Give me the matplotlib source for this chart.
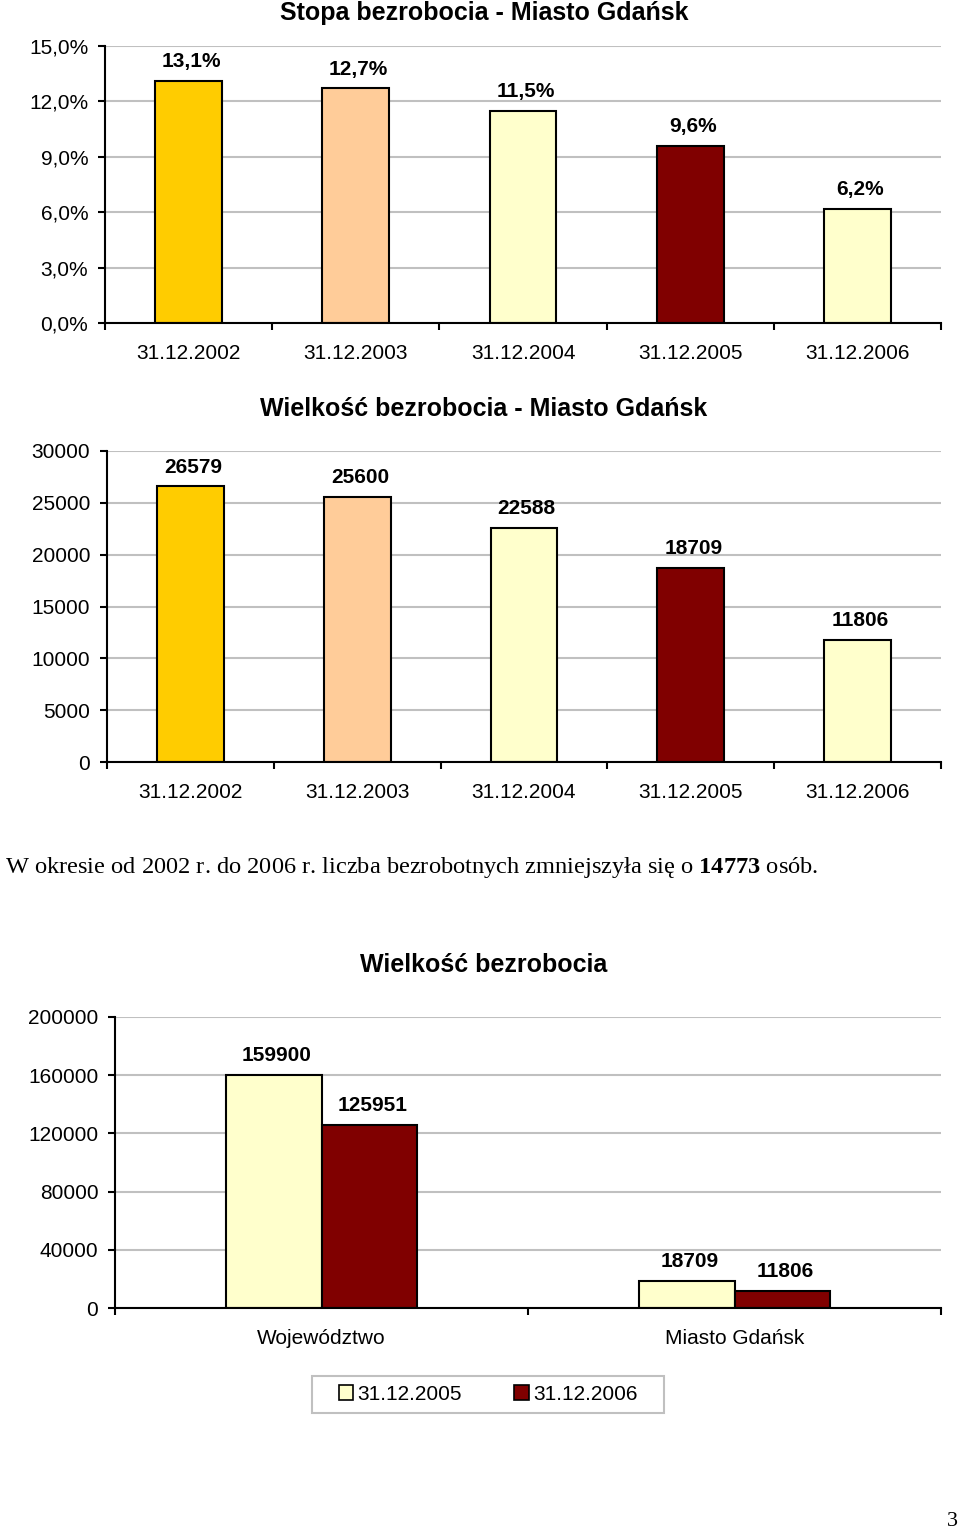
import matplotlib.pyplot as plt
from matplotlib.patches import Patch, Rectangle
import numpy as np

# data
dates = ["31.12.2002", "31.12.2003", "31.12.2004", "31.12.2005", "31.12.2006"]
rate = [13.1, 12.7, 11.5, 9.6, 6.2]
count = [26579, 25600, 22588, 18709, 11806]
bar_colors = ["#FFCC00", "#FFCC99", "#FFFFCC", "#800000", "#FFFFCC"]

regions = ["Województwo", "Miasto Gdańsk"]
series_names = ["31.12.2005", "31.12.2006"]
val_2005 = [159900, 18709]
val_2006 = [125951, 11806]
series_colors = ["#FFFFCC", "#800000"]

SANS = "Liberation Sans"
SERIF = "Liberation Serif"
plt.rcParams["font.family"] = [SANS, "DejaVu Sans"]
plt.rcParams["mathtext.fontset"] = "custom"
plt.rcParams["mathtext.rm"] = SERIF
plt.rcParams["mathtext.bf"] = SERIF + ":bold"

W, H = 960, 1531
fig = plt.figure(figsize=(W / 100, H / 100), dpi=100)


def box(left, top, right, bottom):
    return [left / W, 1 - bottom / H, (right - left) / W, (bottom - top) / H]


def style_axes(ax, ncat, ymax, yticks, fmt):
    ax.set_xlim(0, ncat)
    ax.set_ylim(0, ymax)
    ax.set_yticks(yticks)
    ax.set_yticklabels([fmt(v) for v in yticks], fontsize=15)
    ax.yaxis.grid(True, color="#C0C0C0", linewidth=1.5)
    ax.set_axisbelow(True)
    for s in ("top", "right"):
        ax.spines[s].set_visible(False)
    for s in ("left", "bottom"):
        ax.spines[s].set_linewidth(1.5)
    ax.tick_params(axis="y", length=5, width=1.5, pad=7)
    ax.set_xticks(np.arange(ncat + 1))
    ax.set_xticklabels([])
    ax.tick_params(axis="x", which="major", length=5, width=1.5, direction="out")
    ax.set_xticks(np.arange(ncat) + 0.5, minor=True)
    ax.tick_params(axis="x", which="minor", length=0, pad=15, labelsize=15)


def label_bars(ax, bars, texts):
    for b, t in zip(bars, texts):
        ax.annotate(t, (b.get_x() + b.get_width() / 2, b.get_height()),
                    xytext=(2, 10), textcoords="offset points",
                    ha="center", va="baseline", fontsize=15, fontweight="bold")


# chart 1: rate
ax1 = fig.add_axes(box(105, 46, 941, 323))
x = np.arange(len(dates)) + 0.5
b1 = ax1.bar(x, rate, width=0.4, color=bar_colors, edgecolor="black", linewidth=1.5)
style_axes(ax1, 5, 15, [0, 3, 6, 9, 12, 15], lambda v: f"{v:.1f}%".replace(".", ","))
ax1.set_xticklabels(dates, minor=True)
label_bars(ax1, b1, [f"{v:.1f}%".replace(".", ",") for v in rate])
fig.text(484 / W, 1 - 13 / H, "Stopa bezrobocia - Miasto Gdańsk", ha="center", va="center",
         fontsize=18, fontweight="bold")

# chart 2: count
ax2 = fig.add_axes(box(107, 451, 941, 762))
b2 = ax2.bar(x, count, width=0.4, color=bar_colors, edgecolor="black", linewidth=1.5)
style_axes(ax2, 5, 30000, [0, 5000, 10000, 15000, 20000, 25000, 30000], lambda v: f"{v}")
ax2.set_xticklabels(dates, minor=True)
label_bars(ax2, b2, [str(v) for v in count])
fig.text(484 / W, 1 - 409 / H, "Wielkość bezrobocia - Miasto Gdańsk", ha="center", va="center",
         fontsize=18, fontweight="bold")

# sentence
fig.text(5 / W, 1 - 873 / H,
         "W okresie od 2002 r. do 2006 r. liczba bezrobotnych zmniejszyła się o $\\mathbf{14773}$ osób.",
         ha="left", va="baseline", fontsize=17.6, family=[SERIF, "DejaVu Serif"])

# chart 3: region comparison
ax3 = fig.add_axes(box(115, 1017, 941, 1308))
xr = np.arange(len(regions)) + 0.5
bw = 0.232
b3a = ax3.bar(xr - bw / 2, val_2005, width=bw, color=series_colors[0], edgecolor="black", linewidth=1.5)
b3b = ax3.bar(xr + bw / 2, val_2006, width=bw, color=series_colors[1], edgecolor="black", linewidth=1.5)
style_axes(ax3, 2, 200000, [0, 40000, 80000, 120000, 160000, 200000], lambda v: f"{v}")
ax3.set_xticklabels(regions, minor=True)
label_bars(ax3, b3a, [str(v) for v in val_2005])
label_bars(ax3, b3b, [str(v) for v in val_2006])
fig.text(484 / W, 1 - 965 / H, "Wielkość bezrobocia", ha="center", va="center",
         fontsize=18, fontweight="bold")

# legend with a hand-drawn frame (wider side padding than legend allows)
handles = [Patch(facecolor=c, edgecolor="black", linewidth=1.2) for c in series_colors]
fig.legend(handles, series_names, loc="center", bbox_to_anchor=(488 / W, 1 - 1394 / H),
           ncol=2, fontsize=15, frameon=False,
           handlelength=0.7, handleheight=0.7, handletextpad=0.2, columnspacing=2.5,
           borderpad=0.3)
fig.patches.append(Rectangle((312 / W, 1 - 1413 / H), 352 / W, 37 / H, transform=fig.transFigure,
                             facecolor="none", edgecolor="#C0C0C0", linewidth=1.5))

fig.text(952 / W, 1 - 1521 / H, "3", ha="center", va="center", fontsize=16,
         family=[SERIF, "DejaVu Serif"])

fig.savefig("out.png", dpi=100)
